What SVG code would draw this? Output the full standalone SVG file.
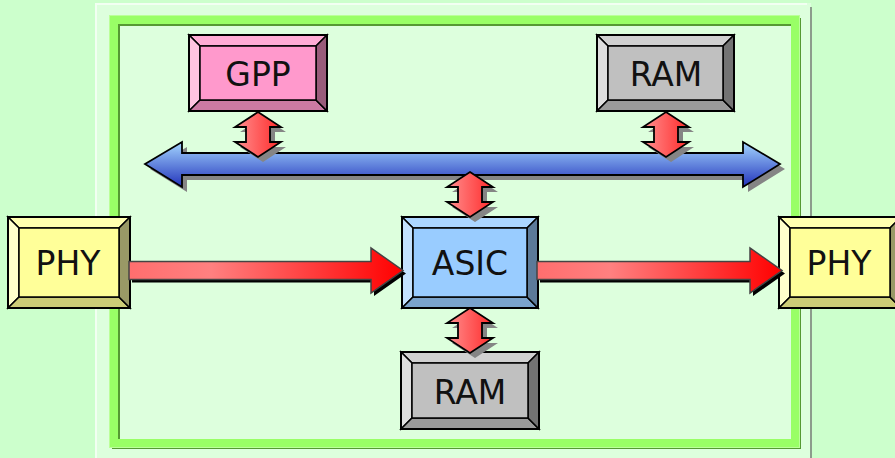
<svg xmlns="http://www.w3.org/2000/svg" width="895" height="458" viewBox="0 0 895 458">
<defs>
<linearGradient id="gBlue" x1="0" y1="0" x2="0" y2="1"><stop offset="0" stop-color="#a4d6ff"/><stop offset="1" stop-color="#2233bb"/></linearGradient>
<linearGradient id="gRedS" x1="0" y1="0" x2="1" y2="0"><stop offset="0" stop-color="#ff9090"/><stop offset="1" stop-color="#ff2a2a"/></linearGradient>
<linearGradient id="gRedH" x1="0" y1="0" x2="1" y2="0"><stop offset="0" stop-color="#ff6e6e"/><stop offset="0.3" stop-color="#ff8080"/><stop offset="1" stop-color="#ff0000"/></linearGradient>
</defs>
<style>
.ln{stroke:#000;stroke-width:1.5;stroke-linejoin:miter}
.out{fill:none;stroke:#000;stroke-width:2}
.lbl{font-family:"DejaVu Sans","Liberation Sans",sans-serif;font-size:33px;fill:#111;text-anchor:middle}
.sh{fill:#858585}
.shk{fill:#000}
.bus{fill:url(#gBlue);stroke:#000;stroke-width:1.8}
.rs{fill:url(#gRedS);stroke:#000;stroke-width:1.8}
.rh{fill:url(#gRedH);stroke:#444;stroke-width:1.5}
</style>
<rect width="895" height="458" fill="#ccffcc"/>
<g id="panel">
<rect x="95" y="3" width="716" height="460" fill="#ddffdd"/>
<rect x="95" y="3" width="2" height="455" fill="#f2fff2"/>
<rect x="95" y="3" width="712" height="2" fill="#f2fff2"/>
<rect x="810" y="7" width="2" height="451" fill="#8c9c8c"/>
<rect x="116" y="22" width="681" height="423" fill="none" stroke="#559933" stroke-width="8"/>
<rect x="114" y="20" width="681" height="423" fill="none" stroke="#99ff66" stroke-width="8"/>
<rect x="109.5" y="15.5" width="690" height="432" fill="none" stroke="#bbff99" stroke-width="1"/>
</g>
<g id="gpp">
<polygon class="ln" fill="#ffacd5" points="189,35 327,35 316,46 200,46"/>
<polygon class="ln" fill="#ffc4e0" points="189,35 200,46 200,100 189,111"/>
<polygon class="ln" fill="#cc7aa3" points="189,111 200,100 316,100 327,111"/>
<polygon class="ln" fill="#995c7a" points="327,35 327,111 316,100 316,46"/>
<rect class="ln" fill="#ff99cc" x="200" y="46" width="116" height="54"/>
<rect class="out" x="189" y="35" width="138" height="76"/>
<text class="lbl" x="258" y="86">GPP</text>
</g>
<g id="ram1">
<polygon class="ln" fill="#d0d0d0" points="597,35 734,35 723,46 608,46"/>
<polygon class="ln" fill="#dedede" points="597,35 608,46 608,100 597,111"/>
<polygon class="ln" fill="#9a9a9a" points="597,111 608,100 723,100 734,111"/>
<polygon class="ln" fill="#737373" points="734,35 734,111 723,100 723,46"/>
<rect class="ln" fill="#c0c0c0" x="608" y="46" width="115" height="54"/>
<rect class="out" x="597" y="35" width="137" height="76"/>
<text class="lbl" x="666" y="86">RAM</text>
</g>
<g id="phy1">
<polygon class="ln" fill="#ffffb0" points="8,217 130,217 119,228 19,228"/>
<polygon class="ln" fill="#ffffcc" points="8,217 19,228 19,297 8,308"/>
<polygon class="ln" fill="#cccc77" points="8,308 19,297 119,297 130,308"/>
<polygon class="ln" fill="#999966" points="130,217 130,308 119,297 119,228"/>
<rect class="ln" fill="#ffff99" x="19" y="228" width="100" height="69"/>
<rect class="out" x="8" y="217" width="122" height="91"/>
<text class="lbl" x="68" y="275">PHY</text>
</g>
<g id="asic">
<polygon class="ln" fill="#acd6ff" points="402,217 538,217 527,228 413,228"/>
<polygon class="ln" fill="#c4e2ff" points="402,217 413,228 413,297 402,308"/>
<polygon class="ln" fill="#7aa3cc" points="402,308 413,297 527,297 538,308"/>
<polygon class="ln" fill="#5c7a99" points="538,217 538,308 527,297 527,228"/>
<rect class="ln" fill="#99ccff" x="413" y="228" width="114" height="69"/>
<rect class="out" x="402" y="217" width="136" height="91"/>
<text class="lbl" x="470" y="275">ASIC</text>
</g>
<g id="phy2">
<polygon class="ln" fill="#ffffb0" points="779,217 901,217 890,228 790,228"/>
<polygon class="ln" fill="#ffffcc" points="779,217 790,228 790,297 779,308"/>
<polygon class="ln" fill="#cccc77" points="779,308 790,297 890,297 901,308"/>
<polygon class="ln" fill="#999966" points="901,217 901,308 890,297 890,228"/>
<rect class="ln" fill="#ffff99" x="790" y="228" width="100" height="69"/>
<rect class="out" x="779" y="217" width="122" height="91"/>
<text class="lbl" x="839" y="275">PHY</text>
</g>
<g id="ram2">
<polygon class="ln" fill="#d0d0d0" points="401,352 539,352 528,363 412,363"/>
<polygon class="ln" fill="#dedede" points="401,352 412,363 412,418 401,429"/>
<polygon class="ln" fill="#9a9a9a" points="401,429 412,418 528,418 539,429"/>
<polygon class="ln" fill="#737373" points="539,352 539,429 528,418 528,363"/>
<rect class="ln" fill="#c0c0c0" x="412" y="363" width="116" height="55"/>
<rect class="out" x="401" y="352" width="138" height="77"/>
<text class="lbl" x="470" y="404">RAM</text>
</g>
<g id="connectors">
<polygon class="sh" transform="translate(5,5)" points="145,164 182,142 182,153 743,153 743,142 780,164 743,187 743,175 182,175 182,187"/>
<polygon class="bus" points="145,164 182,142 182,153 743,153 743,142 780,164 743,187 743,175 182,175 182,187"/>
<g id="dGPP" transform="translate(258,112)">
<polygon class="sh" transform="translate(5,5)" points="0,0 23,15 12,15 12,30 23,30 0,45 -23,30 -12,30 -12,15 -23,15"/>
<polygon class="rs" points="0,0 23,15 12,15 12,30 23,30 0,45 -23,30 -12,30 -12,15 -23,15"/>
</g>
<g id="dRAM1" transform="translate(666,112)">
<polygon class="sh" transform="translate(5,5)" points="0,0 23,15 12,15 12,30 23,30 0,45 -23,30 -12,30 -12,15 -23,15"/>
<polygon class="rs" points="0,0 23,15 12,15 12,30 23,30 0,45 -23,30 -12,30 -12,15 -23,15"/>
</g>
<g id="dASIC" transform="translate(470,172)">
<polygon class="sh" transform="translate(5,5)" points="0,0 23,15 12,15 12,30 23,30 0,45 -23,30 -12,30 -12,15 -23,15"/>
<polygon class="rs" points="0,0 23,15 12,15 12,30 23,30 0,45 -23,30 -12,30 -12,15 -23,15"/>
</g>
<g id="dRAM2" transform="translate(470,308)">
<polygon class="sh" transform="translate(5,5)" points="0,0 23,15 12,15 12,30 23,30 0,45 -23,30 -12,30 -12,15 -23,15"/>
<polygon class="rs" points="0,0 23,15 12,15 12,30 23,30 0,45 -23,30 -12,30 -12,15 -23,15"/>
</g>
<polygon class="shk" transform="translate(3,3)" points="129,261.5 371,261.5 371,248 403,270.5 371,293 371,279.5 129,279.5"/>
<polygon class="rh" points="129,261.5 371,261.5 371,248 403,270.5 371,293 371,279.5 129,279.5"/>
<polygon class="shk" transform="translate(3,3)" points="537,261.5 750,261.5 750,248 782,270.5 750,293 750,279.5 537,279.5"/>
<polygon class="rh" points="537,261.5 750,261.5 750,248 782,270.5 750,293 750,279.5 537,279.5"/>
</g>
</svg>
